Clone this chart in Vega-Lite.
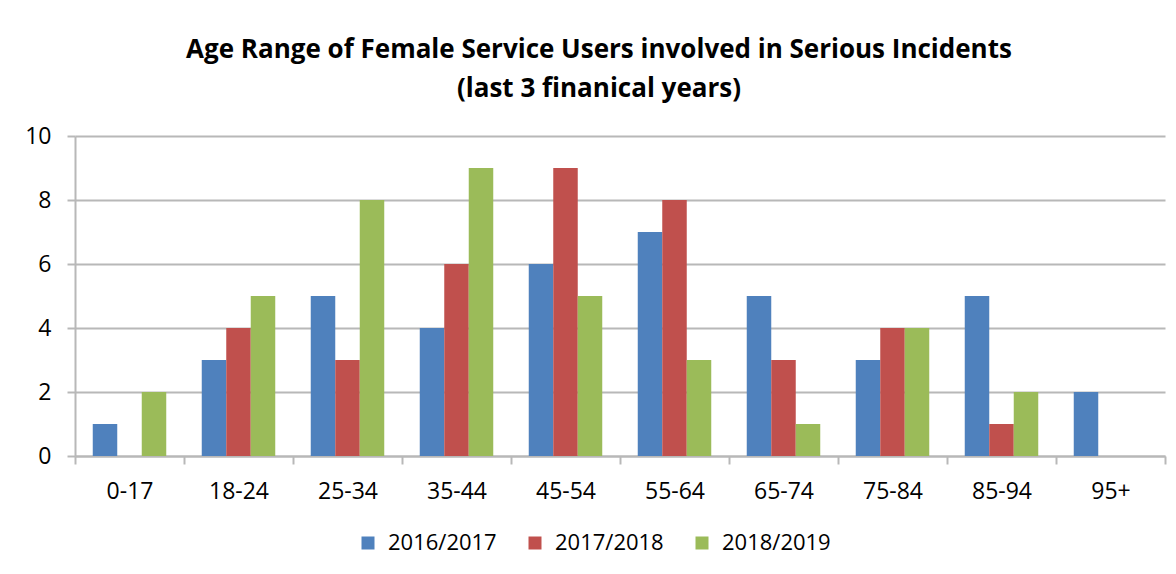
{
  "$schema": "https://vega.github.io/schema/vega-lite/v6.json",
  "autosize": {"type": "none"},
  "width": 1090,
  "height": 320,
  "padding": {"left": 75, "top": 136, "right": 11, "bottom": 118},
  "background": "white",
  "title": {
    "text": ["Age Range of Female Service Users involved in Serious Incidents", "(last 3 finanical years)"],
    "font": "Open Sans",
    "fontSize": 26,
    "fontWeight": "bold",
    "color": "#000000",
    "anchor": "middle",
    "dx": -21,
    "offset": 23,
    "lineHeight": 39
  },
  "data": {
    "values": [
      {"age": "0-17", "year": "2016/2017", "count": 1},
      {"age": "0-17", "year": "2017/2018", "count": 0},
      {"age": "0-17", "year": "2018/2019", "count": 2},
      {"age": "18-24", "year": "2016/2017", "count": 3},
      {"age": "18-24", "year": "2017/2018", "count": 4},
      {"age": "18-24", "year": "2018/2019", "count": 5},
      {"age": "25-34", "year": "2016/2017", "count": 5},
      {"age": "25-34", "year": "2017/2018", "count": 3},
      {"age": "25-34", "year": "2018/2019", "count": 8},
      {"age": "35-44", "year": "2016/2017", "count": 4},
      {"age": "35-44", "year": "2017/2018", "count": 6},
      {"age": "35-44", "year": "2018/2019", "count": 9},
      {"age": "45-54", "year": "2016/2017", "count": 6},
      {"age": "45-54", "year": "2017/2018", "count": 9},
      {"age": "45-54", "year": "2018/2019", "count": 5},
      {"age": "55-64", "year": "2016/2017", "count": 7},
      {"age": "55-64", "year": "2017/2018", "count": 8},
      {"age": "55-64", "year": "2018/2019", "count": 3},
      {"age": "65-74", "year": "2016/2017", "count": 5},
      {"age": "65-74", "year": "2017/2018", "count": 3},
      {"age": "65-74", "year": "2018/2019", "count": 1},
      {"age": "75-84", "year": "2016/2017", "count": 3},
      {"age": "75-84", "year": "2017/2018", "count": 4},
      {"age": "75-84", "year": "2018/2019", "count": 4},
      {"age": "85-94", "year": "2016/2017", "count": 5},
      {"age": "85-94", "year": "2017/2018", "count": 1},
      {"age": "85-94", "year": "2018/2019", "count": 2},
      {"age": "95+", "year": "2016/2017", "count": 2},
      {"age": "95+", "year": "2017/2018", "count": 0},
      {"age": "95+", "year": "2018/2019", "count": 0}
    ]
  },
  "mark": {"type": "bar"},
  "encoding": {
    "x": {
      "field": "age",
      "type": "nominal",
      "sort": null,
      "scale": {"paddingInner": 0, "paddingOuter": 0},
      "axis": {
        "title": null,
        "labelAngle": 0,
        "labelFont": "Open Sans",
        "labelFontSize": 23,
        "labelColor": "#000000",
        "labelPadding": 16,
        "tickBand": "extent",
        "tickSize": 8,
        "tickColor": "#b8b8b8",
        "tickWidth": 2,
        "domainColor": "#b8b8b8",
        "domainWidth": 2,
        "grid": false
      }
    },
    "xOffset": {
      "field": "year",
      "type": "nominal",
      "sort": ["2016/2017", "2017/2018", "2018/2019"],
      "scale": {"paddingInner": 0, "paddingOuter": 0.7245}
    },
    "y": {
      "field": "count",
      "type": "quantitative",
      "scale": {"domain": [0, 10], "nice": false},
      "axis": {
        "title": null,
        "values": [0, 2, 4, 6, 8, 10],
        "labelFont": "Open Sans",
        "labelFontSize": 23,
        "labelColor": "#000000",
        "labelPadding": 16,
        "tickSize": 8,
        "tickColor": "#b8b8b8",
        "tickWidth": 2,
        "domainColor": "#b8b8b8",
        "domainWidth": 2,
        "grid": true,
        "gridColor": "#b8b8b8",
        "gridWidth": 2
      }
    },
    "color": {
      "field": "year",
      "type": "nominal",
      "sort": ["2016/2017", "2017/2018", "2018/2019"],
      "scale": {"domain": ["2016/2017", "2017/2018", "2018/2019"], "range": ["#4F81BD", "#C0504D", "#9BBB59"]},
      "legend": {
        "title": null,
        "orient": "none",
        "legendX": 282,
        "legendY": 396,
        "direction": "horizontal",
        "symbolType": "square",
        "symbolSize": 169,
        "symbolStrokeWidth": 0,
        "labelFont": "Open Sans",
        "labelFontSize": 22,
        "labelColor": "#000000",
        "labelOffset": 9,
        "columnPadding": 27
      }
    }
  },
  "config": {
    "view": {"stroke": null}
  }
}
